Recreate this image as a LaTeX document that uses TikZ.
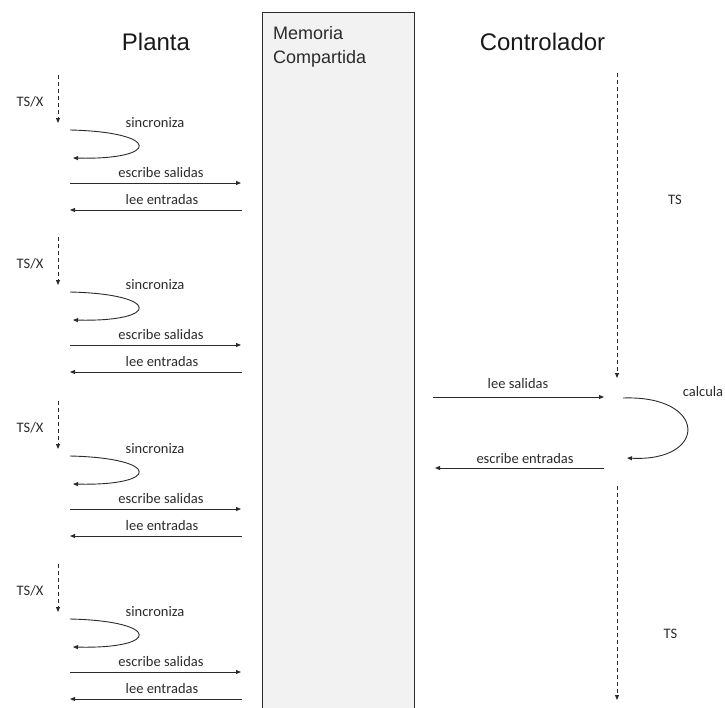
\documentclass[tikz,border=0pt]{standalone}
\usepackage{fontspec}
\setmainfont{Liberation Sans}
\newfontfamily\labelfont{Carlito}
\usetikzlibrary{arrows.meta}
\definecolor{memfill}{HTML}{F2F2F2}
\definecolor{ink}{HTML}{2B2B2B}
\begin{document}
\begin{tikzpicture}[x=1pt,y=-1pt,
  tipend/.style={-{Triangle[length=5pt,width=4pt]}},
  msg/.style={line width=0.9pt, draw=ink, tipend},
  waitline/.style={line width=0.9pt, draw=ink, dash pattern=on 4pt off 3pt, tipend},
  lbl/.style={font=\labelfont\fontsize{14.5}{16}\selectfont, text=ink, inner sep=0pt, anchor=base},
  title/.style={font=\fontsize{24}{28}\selectfont, text=black!90, inner sep=0pt, anchor=base},
  memtext/.style={font=\fontsize{18}{22}\selectfont, text=ink, inner sep=0pt, anchor=base west},
]
\useasboundingbox (0,0) rectangle (725,707);
\clip (0,0) rectangle (725,707);

% shared memory column
\node[draw=ink, line width=1pt, fill=memfill, minimum width=152pt, minimum height=710pt,
      inner sep=0pt, anchor=north west] (mem) at (262,12) {};
\node[memtext] (memA) at (273,39) {Memoria};
\node[memtext] (memB) at (273,63) {Compartida};

% column titles
\node[title] (planta) at (156,50) {Planta};
\node[title] (ctrl) at (542.5,50) {Controlador};

% plant cycles
\foreach \o [count=\g] in {0,162,326,489} {
  \coordinate (pws\g) at (58,75+\o);
  \coordinate (pwe\g) at (58,123+\o);
  \draw[waitline] (pws\g) -- (pwe\g);
  \node[lbl] (tsx\g) at (30,106.5+\o) {TS/X};

  \coordinate (sya\g) at (70,130+\o);
  \coordinate (syb\g) at (73,158+\o);
  \draw[msg] (sya\g) .. controls (161,132+\o) and (161,160+\o) .. (syb\g);
  \node[lbl] (syl\g) at (155,127.5+\o) {sincroniza};

  \coordinate (esa\g) at (70,183+\o);
  \coordinate (esb\g) at (241,183+\o);
  \draw[msg] (esa\g) -- (esb\g);
  \node[lbl] (esl\g) at (161,177.5+\o) {escribe salidas};

  \coordinate (lea\g) at (242,210+\o);
  \coordinate (leb\g) at (70,210+\o);
  \draw[msg] (lea\g) -- (leb\g);
  \node[lbl] (lel\g) at (162,204+\o) {lee entradas};
}

% controller cycle
\coordinate (cws1) at (617,73);
\coordinate (cwe1) at (617,378);
\draw[waitline] (cws1) -- (cwe1);
\node[lbl] (tsA) at (675,204) {TS};

\coordinate (lsa) at (433,397);
\coordinate (lsb) at (604,397);
\draw[msg] (lsa) -- (lsb);
\node[lbl] (lsl) at (518,388) {lee salidas};

\coordinate (cca) at (623,398);
\coordinate (ccb) at (627,458);
\draw[msg] (cca) .. controls (708,395) and (708,462) .. (ccb);
\node[lbl] (ccl) at (703,396) {calcula};

\coordinate (eea) at (604,468);
\coordinate (eeb) at (435,468);
\draw[msg] (eea) -- (eeb);
\node[lbl] (eel) at (525,463) {escribe entradas};

\coordinate (cws2) at (617,486);
\coordinate (cwe2) at (617,700);
\draw[waitline] (cws2) -- (cwe2);
\node[lbl] (tsB) at (670.5,638) {TS};
\end{tikzpicture}
\end{document}
